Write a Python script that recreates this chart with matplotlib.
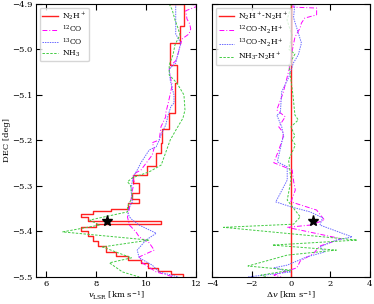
import matplotlib
matplotlib.use("Agg")
import matplotlib.pyplot as plt
import numpy as np

# ---------------- data ----------------
# N2H+ (step profile): DEC start of each step, velocity
dec_n2h = [-4.900, -4.948, -4.986, -5.034, -5.074, -5.140, -5.175, -5.206, -5.228,
           -5.256, -5.276, -5.294, -5.316, -5.329, -5.338, -5.350, -5.356, -5.362,
           -5.368, -5.378, -5.384, -5.390, -5.400, -5.410, -5.420, -5.432, -5.445,
           -5.455, -5.462, -5.470, -5.480, -5.488, -5.494, -5.498, -5.500]
v_n2h = [10.96, 11.52, 11.36, 10.96, 11.24, 11.16, 10.93, 10.65, 10.60,
         10.40, 10.06, 9.47, 9.73, 9.45, 9.73, 9.30, 8.60, 7.90,
         7.40, 7.70, 10.60, 8.00, 7.40, 7.70, 7.90, 8.10, 8.40,
         8.80, 9.30, 9.80, 10.10, 10.50, 11.00, 11.50, 11.50]

dec_12co = [-4.900, -4.904, -4.915, -4.933, -4.944, -4.955, -4.966, -4.977, -4.988,
            -5.010, -5.025, -5.032, -5.043, -5.067, -5.078, -5.118, -5.140, -5.148,
            -5.170, -5.199, -5.205, -5.216, -5.232, -5.265, -5.271, -5.280, -5.291,
            -5.309, -5.331, -5.349, -5.368, -5.386, -5.401, -5.412, -5.425, -5.441,
            -5.456, -5.469, -5.489, -5.500]
v_12co = [11.72, 12.10, 11.59, 11.64, 11.75, 11.79, 11.72, 11.44, 11.39,
          11.28, 11.19, 11.05, 10.93, 11.00, 11.05, 10.89, 10.79, 10.79,
          10.60, 10.53, 10.25, 10.33, 10.25, 9.80, 9.60, 9.46, 9.53,
          9.46, 9.40, 9.34, 9.26, 9.34, 9.60, 9.73, 10.13, 10.33,
          9.73, 9.85, 10.41, 11.10]

dec_13co = [-4.900, -4.966, -4.986, -5.010, -5.030, -5.043, -5.067, -5.074, -5.100,
            -5.118, -5.125, -5.144, -5.166, -5.188, -5.199, -5.214, -5.221, -5.232,
            -5.249, -5.265, -5.276, -5.287, -5.309, -5.335, -5.346, -5.357, -5.368,
            -5.375, -5.386, -5.404, -5.419, -5.441, -5.458, -5.474, -5.489, -5.500]
v_13co = [11.19, 11.19, 11.39, 11.28, 11.19, 10.93, 10.97, 11.00, 11.12,
          11.12, 11.00, 10.89, 10.79, 10.60, 10.53, 10.41, 10.13, 10.00,
          9.80, 9.65, 9.53, 9.46, 9.40, 9.46, 9.34, 9.26, 9.34,
          9.46, 9.73, 10.41, 10.00, 9.65, 9.73, 10.25, 10.53, 11.30]

dec_nh3 = [-4.900, -4.913, -4.935, -4.953, -4.968, -4.990, -5.012, -5.034, -5.056,
           -5.074, -5.100, -5.133, -5.151, -5.173, -5.199, -5.254, -5.269, -5.282,
           -5.291, -5.298, -5.324, -5.346, -5.357, -5.375, -5.386, -5.401, -5.419,
           -5.434, -5.458, -5.469, -5.489, -5.500]
v_nh3 = [10.93, 11.05, 11.16, 11.28, 11.36, 11.16, 11.08, 10.93, 10.93,
         11.24, 11.52, 11.56, 11.48, 11.24, 10.97, 10.61, 10.13, 9.46,
         9.26, 9.38, 9.46, 9.26, 9.26, 7.75, 8.14, 6.67, 10.13,
         8.26, 9.42, 8.54, 9.06, 9.73]

# differences relative to N2H+
dec_d12 = [-4.900, -4.907, -4.909, -4.924, -4.931, -4.942, -4.953, -4.973, -5.008,
           -5.045, -5.096, -5.133, -5.148, -5.170, -5.184, -5.199, -5.221, -5.249,
           -5.265, -5.291, -5.309, -5.335, -5.353, -5.375, -5.386, -5.391, -5.416,
           -5.432, -5.449, -5.465, -5.480, -5.496, -5.500]
dv_12 = [0.10, 0.10, 1.30, 1.30, 0.70, 0.53, 0.46, 0.20, 0.04,
         -0.10, -0.40, -0.72, -0.29, -0.62, -0.37, -0.44, -0.62, -0.87,
         0.06, 0.14, 0.22, 0.00, 1.30, 1.70, 0.97, -0.19, 2.55,
         1.47, 1.13, 0.47, 0.30, -0.86, -0.50]

dec_d13 = [-4.900, -4.930, -4.986, -5.012, -5.030, -5.060, -5.093, -5.140, -5.144,
           -5.170, -5.192, -5.199, -5.247, -5.258, -5.287, -5.335, -5.346, -5.357,
           -5.370, -5.386, -5.412, -5.419, -5.434, -5.445, -5.456, -5.474, -5.480,
           -5.489, -5.500]
dv_13 = [0.20, 0.13, 0.53, 0.37, 0.12, -0.10, -0.47, -0.54, -0.72,
         -0.47, -0.37, -0.44, -0.69, -0.19, -0.19, -0.77, 0.00, 0.97,
         1.60, 1.47, 3.10, 2.30, 1.47, 1.72, 0.80, -0.19, -0.87,
         0.00, -2.18]

dec_dnh3 = [-4.900, -4.935, -4.968, -5.000, -5.010, -5.034, -5.067, -5.100, -5.144,
            -5.155, -5.170, -5.190, -5.199, -5.210, -5.243, -5.287, -5.331, -5.368,
            -5.384, -5.391, -5.419, -5.430, -5.441, -5.452, -5.476, -5.485, -5.496,
            -5.500]
dv_nh3 = [0.04, -0.20, 0.04, -0.10, 0.20, -0.10, 0.00, 0.10, 0.20,
          0.37, 0.00, 0.20, 0.06, 0.22, -0.12, 0.00, -0.19, 0.47,
          0.13, -3.42, 3.36, -0.94, 2.30, -0.19, -2.18, 0.00, -1.52,
          -1.20]

star_dec = -5.377
star_v = 8.46
star_dv = 1.13

# ---------------- style ----------------
plt.rcParams['font.family'] = ['DejaVu Serif']
plt.rcParams['mathtext.fontset'] = 'dejavuserif'
plt.rcParams['font.size'] = 6

RED = '#ff2020'
MAG = '#ff00ff'
BLUE = '#6a6aff'
GREEN = '#44cc44'

fig = plt.figure(figsize=(3.74, 3.04), dpi=100)
ax1 = fig.add_axes([0.096, 0.089, 0.428, 0.898])
ax2 = fig.add_axes([0.567, 0.089, 0.422, 0.898])

ax1.plot(v_n2h, dec_n2h, color=RED, lw=1.0, drawstyle='steps-post', label=r'N$_2$H$^+$')
ax1.plot(v_12co, dec_12co, color=MAG, lw=0.7, ls=(0, (5, 2, 1, 2)), label=r'$^{12}$CO')
ax1.plot(v_13co, dec_13co, color=BLUE, lw=0.7, ls=(0, (1.5, 1)), label=r'$^{13}$CO')
ax1.plot(v_nh3, dec_nh3, color=GREEN, lw=0.7, ls=(0, (2.5, 1.5)), label=r'NH$_3$')
ax1.plot([star_v], [star_dec], marker='*', color='k', ms=8, ls='none')

ax2.axvline(0, color=RED, lw=1.0, label=r'N$_2$H$^+$-N$_2$H$^+$')
ax2.plot(dv_12, dec_d12, color=MAG, lw=0.7, ls=(0, (5, 2, 1, 2)), label=r'$^{12}$CO-N$_2$H$^+$')
ax2.plot(dv_13, dec_d13, color=BLUE, lw=0.7, ls=(0, (1.5, 1)), label=r'$^{13}$CO-N$_2$H$^+$')
ax2.plot(dv_nh3, dec_dnh3, color=GREEN, lw=0.7, ls=(0, (2.5, 1.5)), label=r'NH$_3$-N$_2$H$^+$')
ax2.plot([star_dv], [star_dec], marker='*', color='k', ms=8, ls='none')

ax1.set_xlim(5.6, 12)
ax1.set_ylim(-5.5, -4.9)
ax2.set_xlim(-4, 4)
ax2.set_ylim(-5.5, -4.9)

ax1.set_xticks([6, 8, 10, 12])
ax1.set_yticks([-5.5, -5.4, -5.3, -5.2, -5.1, -5.0, -4.9])
ax2.set_xticks([-4, -2, 0, 2, 4])
ax2.set_yticks([-5.5, -5.4, -5.3, -5.2, -5.1, -5.0, -4.9])
ax2.set_yticklabels([])

for ax in (ax1, ax2):
    ax.tick_params(direction='in', top=True, right=True, length=4, width=0.8, labelsize=6, pad=2.5)
    for s in ax.spines.values():
        s.set_linewidth(0.8)

ax1.set_xlabel(r'$v_{\rm LSR}$ [km s$^{-1}$]', fontsize=6, labelpad=1)
ax1.set_ylabel('DEC [deg]', fontsize=6, labelpad=1)
ax2.set_xlabel(r'$\Delta v$ [km s$^{-1}$]', fontsize=6, labelpad=1)

leg_kw = dict(loc='upper left', fontsize=5.5, frameon=True, handlelength=2.0,
              borderpad=0.35, labelspacing=0.2, handletextpad=0.6, framealpha=0.8,
              edgecolor='#cccccc', fancybox=True)
ax1.legend(**leg_kw)
ax2.legend(**leg_kw)

fig.savefig('out.png', dpi=100)
